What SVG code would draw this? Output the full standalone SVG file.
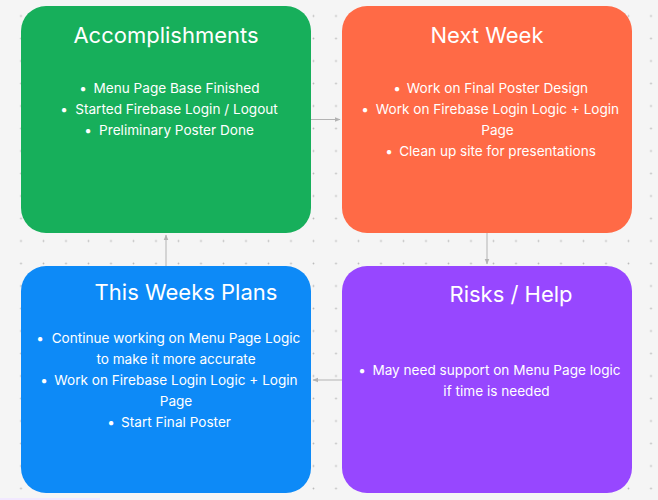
<svg xmlns="http://www.w3.org/2000/svg" width="658" height="500" viewBox="0 0 658 500">
<style>
.title{font-family:Inter,"Liberation Sans",sans-serif;font-size:22px;fill:#fff;text-anchor:middle}
.body{font-family:Inter,"Liberation Sans",sans-serif;font-size:13.6px;fill:#fff;text-anchor:middle}
.bul{font-family:Inter,"Liberation Sans",sans-serif;font-size:13.6px;fill:#fff;text-anchor:middle}
.conn{stroke:#b3b3b3;stroke-width:1;fill:none}
</style>
<defs>
<pattern id="dots" x="9.75" y="4.75" width="22.5" height="22.5" patternUnits="userSpaceOnUse">
<circle cx="11.25" cy="11.25" r="0.9" fill="#bcbcbc"/>
</pattern>
<marker id="arr" viewBox="0 0 10 10" refX="9" refY="5" markerWidth="6" markerHeight="6" orient="auto">
<path d="M0,1 L10,5 L0,9 Z" fill="#b3b3b3"/>
</marker>
</defs>
<rect width="658" height="500" fill="#f5f5f5"/>
<rect width="658" height="500" fill="url(#dots)"/>
<rect x="0" y="498" width="100" height="2" fill="#f1e8ff"/>
<g id="connectors">
<line class="conn" x1="311" y1="119.5" x2="340" y2="119.5" marker-end="url(#arr)"/>
<line class="conn" x1="487" y1="233" x2="487" y2="264" marker-end="url(#arr)"/>
<line class="conn" x1="342" y1="380" x2="313" y2="380" marker-end="url(#arr)"/>
<line class="conn" x1="166" y1="266" x2="166" y2="235" marker-end="url(#arr)"/>
</g>
<g id="accomplishments">
<rect x="21" y="6" width="290" height="227" rx="25" fill="#17af5b"/>
<text class="title" x="166" y="43">Accomplishments</text>
<text class="bul" x="83" y="93">•</text>
<text class="body" x="176.5" y="93">Menu Page Base Finished</text>
<text class="bul" x="64" y="114">•</text>
<text class="body" x="176.5" y="114">Started Firebase Login / Logout</text>
<text class="bul" x="88" y="135">•</text>
<text class="body" x="176.5" y="135">Preliminary Poster Done</text>
</g>
<g id="next-week">
<rect x="342" y="6" width="290" height="227" rx="25" fill="#ff6a46"/>
<text class="title" x="487" y="43">Next Week</text>
<text class="bul" x="397" y="93">•</text>
<text class="body" x="497.5" y="93">Work on Final Poster Design</text>
<text class="bul" x="365" y="114">•</text>
<text class="body" x="497.5" y="114">Work on Firebase Login Logic + Login</text>
<text class="body" x="497.5" y="135">Page</text>
<text class="bul" x="389" y="156">•</text>
<text class="body" x="497.5" y="156">Clean up site for presentations</text>
</g>
<g id="this-weeks-plans">
<rect x="21" y="266" width="290" height="227" rx="25" fill="#0d8af7"/>
<text class="title" x="186" y="300">This Weeks Plans</text>
<text class="bul" x="40" y="343">•</text>
<text class="body" x="176" y="343">Continue working on Menu Page Logic</text>
<text class="body" x="176" y="364">to make it more accurate</text>
<text class="bul" x="44" y="385">•</text>
<text class="body" x="176" y="385">Work on Firebase Login Logic + Login</text>
<text class="body" x="176" y="406">Page</text>
<text class="bul" x="111" y="427">•</text>
<text class="body" x="176" y="427">Start Final Poster</text>
</g>
<g id="risks-help">
<rect x="342" y="266" width="290" height="227" rx="25" fill="#9747ff"/>
<text class="title" x="511" y="302">Risks / Help</text>
<text class="bul" x="362" y="375">•</text>
<text class="body" x="496.5" y="375">May need support on Menu Page logic</text>
<text class="body" x="496.5" y="396">if time is needed</text>
</g>
</svg>
